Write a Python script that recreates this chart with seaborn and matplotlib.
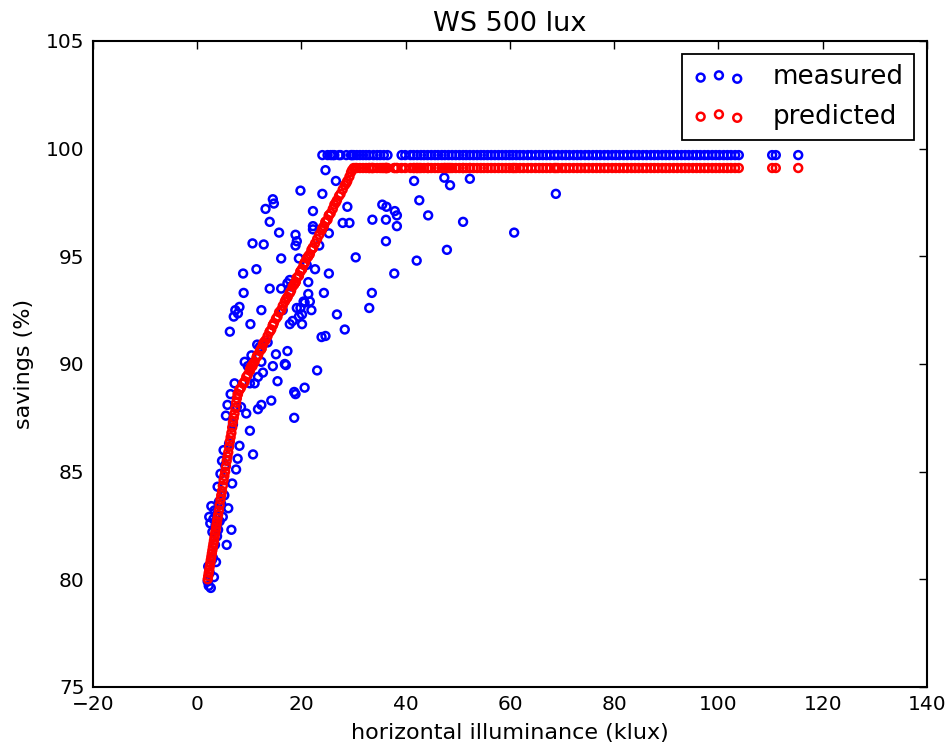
import matplotlib
matplotlib.use("Agg")
import matplotlib.pyplot as plt
import seaborn as sns

# ---------------- data ----------------
# low-illuminance part (steep branch of the model)
low_x = [2.0, 2.1, 2.2, 2.3, 2.4, 2.5, 2.6, 2.7, 2.8, 2.9,
         3.0, 3.1, 3.2, 3.3, 3.4, 3.5, 3.6, 3.7, 3.8, 3.9,
         4.0, 4.15, 4.3, 4.45, 4.6, 4.75, 4.9, 5.05, 5.2, 5.35,
         5.5, 5.65, 5.8, 5.95, 6.1, 6.25, 6.4, 6.55, 6.7, 6.85,
         7.0, 7.15, 7.3, 7.45, 7.6, 7.75]
low_meas = [79.9, 80.6, 79.7, 82.9, 80.3, 82.6, 79.6, 83.4, 80.9, 82.2,
            81.0, 82.8, 80.1, 83.2, 81.6, 82.5, 80.8, 83.0, 82.0, 84.3,
            82.3, 83.6, 82.7, 84.9, 83.5, 85.5, 82.9, 86.0, 83.9, 85.3,
            87.6, 81.6, 88.1, 83.3, 86.3, 91.5, 88.6, 82.3, 84.45, 87.2,
            92.2, 89.1, 92.5, 85.1, 88.0, 85.6]
low_pred = [80.0, 80.15, 80.3, 80.45, 80.6, 80.75, 80.9, 81.05, 81.2, 81.35,
            81.5, 81.65, 81.8, 81.95, 82.1, 82.25, 82.4, 82.55, 82.7, 82.85,
            83.0, 83.2, 83.45, 83.7, 83.9, 84.1, 84.35, 84.6, 84.8, 85.0,
            85.25, 85.5, 85.7, 85.9, 86.15, 86.4, 86.6, 86.8, 87.05, 87.3,
            87.5, 87.7, 87.95, 88.2, 88.4, 88.6]

# middle part (gentler branch)
mid_x = [7.8, 8.1, 8.1, 8.4, 8.8, 8.9, 9.1, 9.4, 9.7, 10.1,
         10.1, 10.2, 10.4, 10.6, 10.7, 11.0, 11.35, 11.5, 11.65, 11.65,
         12.0, 12.3, 12.3, 12.3, 12.6, 12.75, 13.1, 13.5, 13.9, 13.9,
         14.2, 14.5, 14.5, 14.7, 15.1, 15.4, 15.7, 16.1, 16.1, 16.4,
         16.8, 17.0, 17.3, 17.3, 17.75, 17.75, 18.0, 18.3, 18.6, 18.6,
         18.85, 18.85, 18.85, 19.1, 19.1, 19.5, 19.5, 19.8, 19.8, 20.1,
         20.1, 20.4, 20.6, 20.6, 21.0, 21.3, 21.3, 21.6, 21.9, 22.2,
         22.2, 22.2, 22.6, 23.0, 23.4, 23.85, 24.0, 24.0, 24.3, 24.6,
         24.6, 25.0, 25.25, 25.25, 25.6, 26.0, 26.3, 26.6, 26.8, 27.2,
         27.5, 27.9, 28.3, 28.6, 28.8, 29.2, 29.5, 29.7, 30.0]
mid_meas = [92.35, 92.65, 86.2, 88.0, 94.2, 93.3, 90.1, 87.7, 89.9, 86.9,
            89.1, 91.85, 90.4, 95.6, 85.8, 89.1, 94.4, 90.9, 87.9, 89.4,
            90.8, 88.1, 90.1, 92.5, 89.6, 95.55, 97.2, 91.0, 96.6, 93.5,
            88.3, 97.65, 89.9, 97.45, 90.45, 89.2, 96.1, 94.9, 93.5, 92.5,
            90.0, 89.95, 90.6, 93.75, 93.9, 91.85, 93.6, 92.0, 87.5, 88.7,
            88.6, 96.0, 95.5, 95.7, 92.6, 94.9, 92.2, 98.05, 92.6, 91.85,
            92.3, 92.9, 88.9, 92.85, 94.6, 93.25, 93.8, 92.9, 92.5, 96.4,
            96.25, 97.1, 94.4, 89.7, 95.5, 91.25, 97.9, 99.7, 93.3, 91.3,
            99.0, 99.7, 96.07, 94.2, 99.7, 99.7, 99.7, 98.5, 92.3, 99.7,
            99.7, 96.55, 91.6, 99.7, 97.3, 96.55, 99.7, 99.7, 99.7]
mid_pred = [88.6, 88.8, 88.8, 88.9, 89.1, 89.1, 89.2, 89.4, 89.5, 89.7,
            89.7, 89.8, 89.9, 89.9, 90.0, 90.1, 90.3, 90.4, 90.4, 90.4,
            90.6, 90.7, 90.7, 90.7, 90.9, 91.0, 91.1, 91.3, 91.5, 91.5,
            91.6, 91.8, 91.8, 91.9, 92.1, 92.2, 92.4, 92.5, 92.5, 92.7,
            92.9, 93.0, 93.1, 93.1, 93.3, 93.3, 93.4, 93.6, 93.7, 93.7,
            93.8, 93.8, 93.8, 94.0, 94.0, 94.1, 94.1, 94.3, 94.3, 94.4,
            94.4, 94.6, 94.7, 94.7, 94.9, 95.0, 95.0, 95.1, 95.3, 95.4,
            95.4, 95.4, 95.6, 95.8, 96.0, 96.2, 96.3, 96.3, 96.4, 96.6,
            96.6, 96.7, 96.9, 96.9, 97.0, 97.2, 97.4, 97.5, 97.6, 97.8,
            97.9, 98.1, 98.3, 98.4, 98.5, 98.7, 98.9, 99.0, 99.1]

# saturated part: measured capped at 99.7, model flat at 99.1
flat_x = [30.6, 31.2, 31.8, 32.4, 33.0, 33.8, 34.5, 35.1, 35.8, 36.5,
          39.2, 39.9, 40.9, 41.5, 42.2, 42.9, 43.5, 44.2, 44.9, 45.6,
          46.2, 46.9, 47.5, 48.2, 48.9, 49.6, 50.3, 51.0, 51.6, 52.3,
          53.0, 53.7, 54.4, 55.0, 55.7, 56.4, 57.1, 57.8, 58.5, 59.2,
          59.9, 60.5, 61.2, 61.9, 62.6, 63.4, 64.1, 64.9, 65.6, 66.3,
          67.0, 67.7, 68.5, 69.2, 70.0, 70.7, 71.4, 72.2, 72.9, 73.6,
          74.4, 75.1, 75.9, 76.6, 77.3, 78.1, 78.8, 79.6, 80.3, 81.0,
          81.8, 82.5, 83.3, 84.0, 84.7, 85.5, 86.2, 87.0, 87.7, 88.4,
          89.2, 89.9, 90.6, 91.4, 92.1, 92.9, 93.6, 94.3, 95.1, 95.8,
          96.5, 97.3, 98.0, 98.8, 99.5, 100.2, 101.0, 101.7, 102.4, 103.2,
          103.9, 110.3, 111.0, 115.3]
flat_meas = [99.7, 99.7, 99.7, 99.7, 99.7, 99.7, 99.7, 99.7, 99.7, 99.7,
             99.7, 99.7, 99.7, 99.7, 99.7, 99.7, 99.7, 99.7, 99.7, 99.7,
             99.7, 99.7, 99.7, 99.7, 99.7, 99.7, 99.7, 99.7, 99.7, 99.7,
             99.7, 99.7, 99.7, 99.7, 99.7, 99.7, 99.7, 99.7, 99.7, 99.7,
             99.7, 99.7, 99.7, 99.7, 99.7, 99.7, 99.7, 99.7, 99.7, 99.7,
             99.7, 99.7, 99.7, 99.7, 99.7, 99.7, 99.7, 99.7, 99.7, 99.7,
             99.7, 99.7, 99.7, 99.7, 99.7, 99.7, 99.7, 99.7, 99.7, 99.7,
             99.7, 99.7, 99.7, 99.7, 99.7, 99.7, 99.7, 99.7, 99.7, 99.7,
             99.7, 99.7, 99.7, 99.7, 99.7, 99.7, 99.7, 99.7, 99.7, 99.7,
             99.7, 99.7, 99.7, 99.7, 99.7, 99.7, 99.7, 99.7, 99.7, 99.7,
             99.7, 99.7, 99.7, 99.7]
flat_pred = [99.1, 99.1, 99.1, 99.1, 99.1, 99.1, 99.1, 99.1, 99.1, 99.1,
             99.1, 99.1, 99.1, 99.1, 99.1, 99.1, 99.1, 99.1, 99.1, 99.1,
             99.1, 99.1, 99.1, 99.1, 99.1, 99.1, 99.1, 99.1, 99.1, 99.1,
             99.1, 99.1, 99.1, 99.1, 99.1, 99.1, 99.1, 99.1, 99.1, 99.1,
             99.1, 99.1, 99.1, 99.1, 99.1, 99.1, 99.1, 99.1, 99.1, 99.1,
             99.1, 99.1, 99.1, 99.1, 99.1, 99.1, 99.1, 99.1, 99.1, 99.1,
             99.1, 99.1, 99.1, 99.1, 99.1, 99.1, 99.1, 99.1, 99.1, 99.1,
             99.1, 99.1, 99.1, 99.1, 99.1, 99.1, 99.1, 99.1, 99.1, 99.1,
             99.1, 99.1, 99.1, 99.1, 99.1, 99.1, 99.1, 99.1, 99.1, 99.1,
             99.1, 99.1, 99.1, 99.1, 99.1, 99.1, 99.1, 99.1, 99.1, 99.1,
             99.1, 99.1, 99.1, 99.1]

# saturated part: measured points below the cap
scat_x = [30.4, 33.0, 33.5, 33.6, 35.5, 36.2, 36.2, 36.3, 37.8, 37.9,
          38.3, 38.3, 41.6, 42.1, 42.6, 44.3, 47.4, 47.9, 48.5, 51.0,
          52.3, 60.8, 68.8]
scat_meas = [94.95, 92.6, 93.3, 96.7, 97.4, 95.7, 96.7, 97.3, 94.2, 97.1,
             96.9, 96.4, 98.5, 94.8, 97.6, 96.9, 98.65, 95.3, 98.3, 96.6,
             98.6, 96.1, 97.9]
scat_pred = [99.1, 99.1, 99.1, 99.1, 99.1, 99.1, 99.1, 99.1, 99.1, 99.1,
             99.1, 99.1, 99.1, 99.1, 99.1, 99.1, 99.1, 99.1, 99.1, 99.1,
             99.1, 99.1, 99.1]

x_ticks = [-20, 0, 20, 40, 60, 80, 100, 120, 140]
y_ticks = [75, 80, 85, 90, 95, 100, 105]

illum = low_x + mid_x + flat_x + scat_x
measured = low_meas + mid_meas + flat_meas + scat_meas
predicted = low_pred + mid_pred + flat_pred + scat_pred

# ---------------- style ----------------
sns.set_style("white")
plt.rcParams["font.family"] = ["DejaVu Sans"]
plt.rcParams["axes.edgecolor"] = "black"
plt.rcParams["text.color"] = "black"
plt.rcParams["axes.labelcolor"] = "black"
plt.rcParams["xtick.color"] = "black"
plt.rcParams["ytick.color"] = "black"

fig = plt.figure(figsize=(9.52, 7.46), dpi=100)
ax = fig.add_axes([0.0977, 0.0791, 0.876, 0.866])

sns.scatterplot(x=illum, y=measured, ax=ax, marker="o", s=32,
                facecolors="none", edgecolor="#0000ff", linewidth=1.8,
                label="measured")
sns.scatterplot(x=illum, y=predicted, ax=ax, marker="o", s=32,
                facecolors="none", edgecolor="#ff0000", linewidth=1.8,
                label="predicted")

ax.set_xlim(-20, 140)
ax.set_ylim(75, 105)
ax.set_xticks(x_ticks)
ax.set_yticks(y_ticks)
ax.tick_params(direction="in", length=6, width=1, top=True, right=True,
               labelsize=14.5, pad=6, colors="black")
for sp in ax.spines.values():
    sp.set_visible(True)
    sp.set_linewidth(1.5)
    sp.set_color("black")

ax.set_title("WS 500 lux", fontsize=19.5, pad=7, color="black")
ax.set_xlabel("horizontal illuminance (klux)", fontsize=16, labelpad=6)
ax.set_ylabel("savings (%)", fontsize=16, labelpad=9)

leg = ax.legend(loc="upper right", scatterpoints=3,
                scatteryoffsets=[0.375, 0.5, 0.3125], fontsize=18.8,
                frameon=True, fancybox=False, framealpha=1,
                edgecolor="black", borderaxespad=0.5, handletextpad=1.05)
leg.get_frame().set_linewidth(1.3)
for t in leg.get_texts():
    t.set_color("black")

fig.savefig("out.png", dpi=100)
